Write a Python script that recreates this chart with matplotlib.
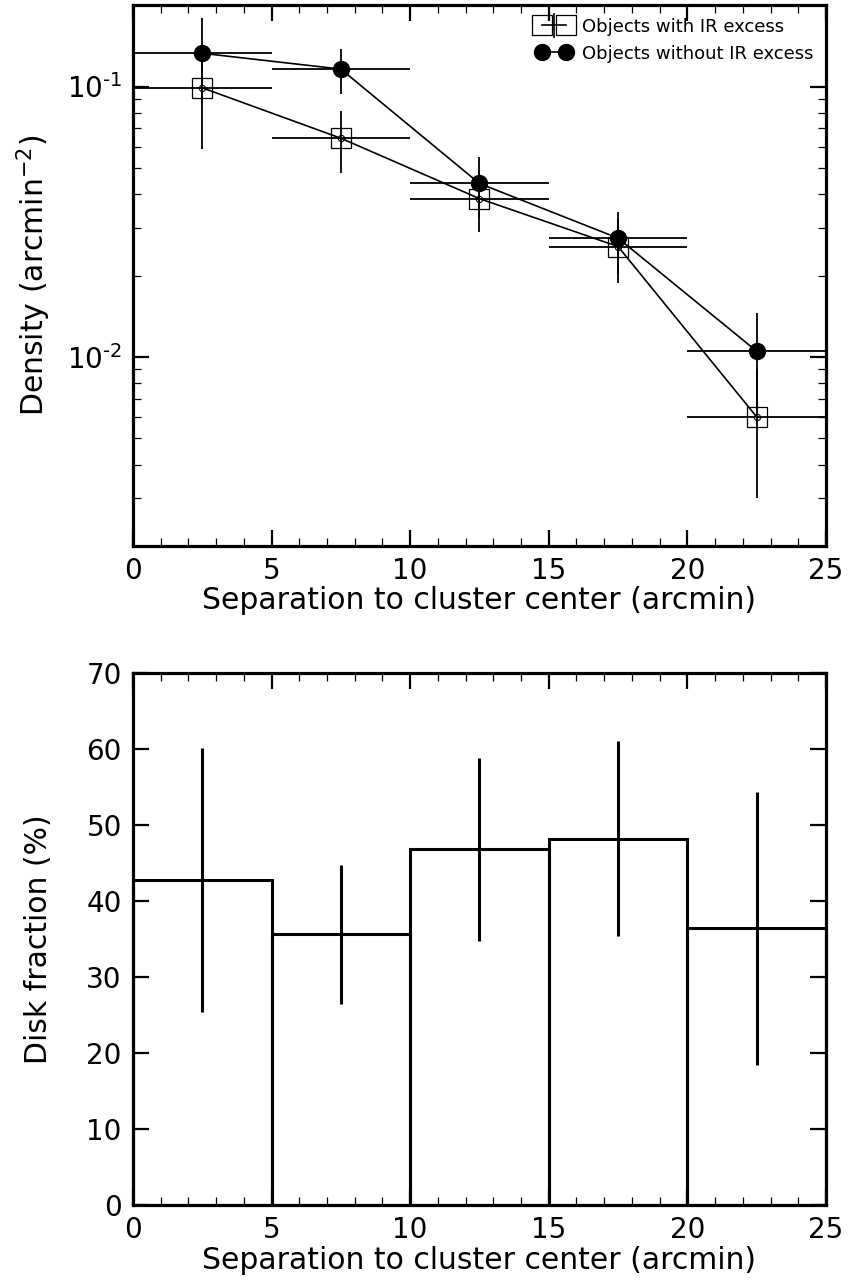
import numpy as np
import matplotlib
matplotlib.use('Agg')
import matplotlib.pyplot as plt
from matplotlib.lines import Line2D
from matplotlib.legend_handler import HandlerLine2D, HandlerTuple
from matplotlib.ticker import MultipleLocator, LogLocator, NullFormatter, FuncFormatter

plt.rcParams['font.family'] = 'DejaVu Sans'

# Radial bins (arcmin)
bin_centers = [2.5, 7.5, 12.5, 17.5, 22.5]
bin_halfwidth = [2.5, 2.5, 2.5, 2.5, 2.5]
bin_edges = [0, 5, 10, 15, 20]

# Surface density, objects with IR excess
dens_ir = [0.0989, 0.0644, 0.0385, 0.0256, 0.0060]
dens_ir_err = [0.040, 0.0166, 0.0096, 0.0068, 0.0030]

# Surface density, objects without IR excess
dens_noir = [0.1327, 0.116, 0.0438, 0.0275, 0.0105]
dens_noir_err = [0.046, 0.022, 0.011, 0.007, 0.0041]

# Disk fraction (%)
disk_frac = [42.8, 35.7, 46.8, 48.2, 36.4]
disk_frac_lo = [17.4, 9.3, 12.0, 12.8, 18.0]
disk_frac_hi = [17.3, 9.0, 12.0, 12.8, 18.0]


def style_axes(ax):
    for s in ax.spines.values():
        s.set_linewidth(2.3)
    ax.tick_params(which='both', direction='in', top=True, right=True, labelsize=20)
    ax.tick_params(which='major', length=11.5, width=1.6, pad=8)
    ax.tick_params(which='minor', length=5.5, width=0.9)


def log_label(v, pos):
    e = int(round(np.log10(v)))
    # plain hyphen in the exponent, as in the original
    return '$10^{%s%d}$' % ('\u2010' if e < 0 else '', abs(e))


fig = plt.figure(figsize=(8.52, 12.81), dpi=100)

# ---- top panel: density profiles ----
ax1 = fig.add_axes([0.156, 0.5738, 0.8135, 0.4222])
ax1.errorbar(bin_centers, dens_ir, xerr=bin_halfwidth, yerr=dens_ir_err,
             fmt='s', mfc='none', mec='black', mew=0.9, ms=15,
             ecolor='black', elinewidth=1.3, capsize=0, zorder=3)
ax1.plot(bin_centers, dens_ir, 'o-', color='black', mfc='none', ms=4.5, mew=0.8, lw=1.2, zorder=3)
ax1.errorbar(bin_centers, dens_noir, xerr=bin_halfwidth, yerr=dens_noir_err,
             fmt='none', ecolor='black', elinewidth=1.3, capsize=0, zorder=3)
ax1.plot(bin_centers, dens_noir, 'o-', color='black', ms=11.5, lw=1.2, zorder=4)

ax1.set_yscale('log')
ax1.set_xlim(0, 25)
ax1.set_ylim(0.002, 0.2)
ax1.xaxis.set_major_locator(MultipleLocator(5))
ax1.xaxis.set_minor_locator(MultipleLocator(1))
ax1.yaxis.set_major_formatter(FuncFormatter(log_label))
ax1.yaxis.set_minor_locator(LogLocator(base=10, subs=np.arange(2, 10)))
ax1.yaxis.set_minor_formatter(NullFormatter())
style_axes(ax1)
ax1.set_xlabel('Separation to cluster center (arcmin)', fontsize=21.5, labelpad=1)
ax1.set_ylabel('Density (arcmin$^{-2}$)', fontsize=21.5)
ax1.yaxis.set_label_coords(-0.115, 0.5)

# legend handles: squares joined by an error cross, and joined filled circles
h_sq = Line2D([], [], color='black', marker='s', mfc='none', mec='black',
              mew=0.9, ms=15, lw=1.2)
h_bar = Line2D([], [], color='black', marker='|', ms=18, mew=1.2, ls='none')
h_noir = Line2D([], [], color='black', marker='o', ms=11.5, lw=1.2)
ax1.legend([(h_sq, h_bar), h_noir],
           ['Objects with IR excess', 'Objects without IR excess'],
           handler_map={h_bar: HandlerLine2D(numpoints=1),
                        tuple: HandlerTuple(ndivide=1, pad=0)},
           loc='upper right', frameon=False, fontsize=13, numpoints=2,
           handlelength=1.9, borderaxespad=0.3, handletextpad=0.6,
           labelspacing=0.5)

# ---- bottom panel: disk fraction ----
ax2 = fig.add_axes([0.156, 0.0593, 0.8135, 0.4153])
ax2.bar(bin_edges, disk_frac, width=5, align='edge', fill=False,
        edgecolor='black', linewidth=2.2)
ax2.errorbar(bin_centers, disk_frac, yerr=[disk_frac_lo, disk_frac_hi],
             fmt='none', ecolor='black', elinewidth=2.2, capsize=0)
ax2.set_xlim(0, 25)
ax2.set_ylim(0, 70)
ax2.xaxis.set_major_locator(MultipleLocator(5))
ax2.xaxis.set_minor_locator(MultipleLocator(1))
ax2.yaxis.set_major_locator(MultipleLocator(10))
style_axes(ax2)
ax2.set_xlabel('Separation to cluster center (arcmin)', fontsize=21.5, labelpad=1)
ax2.set_ylabel('Disk fraction (%)', fontsize=21.5)
ax2.yaxis.set_label_coords(-0.115, 0.5)

fig.savefig('out.png', dpi=100)
